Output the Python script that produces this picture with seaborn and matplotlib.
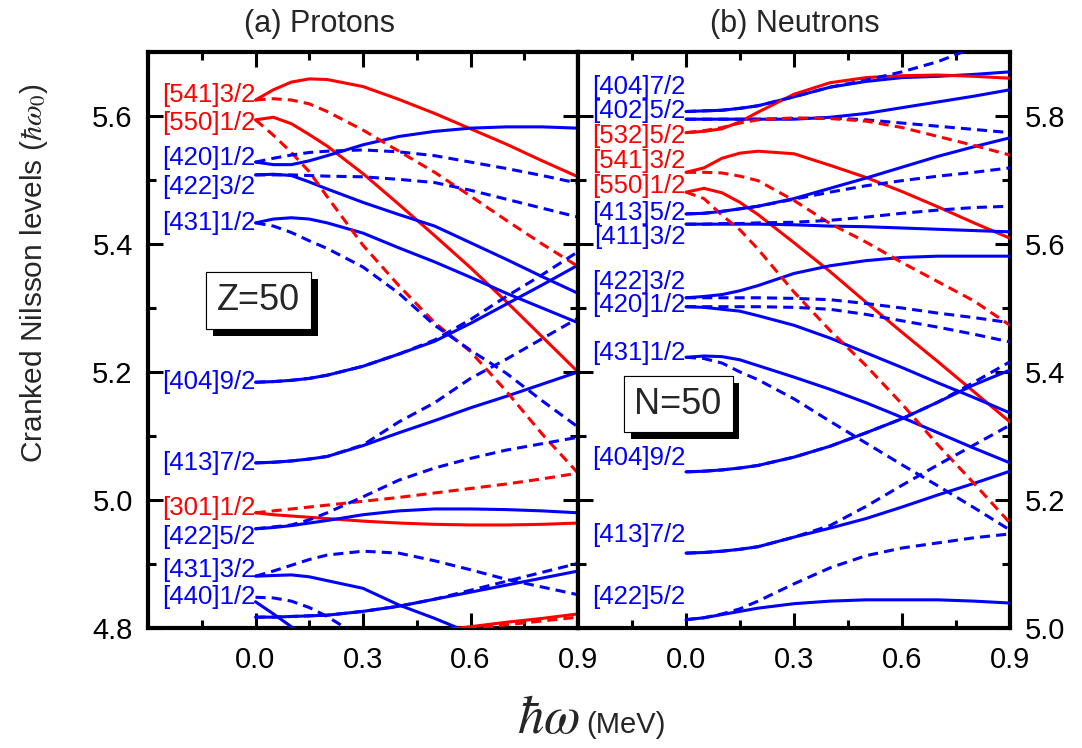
import numpy as np
import pandas as pd
import matplotlib
matplotlib.use("Agg")
import matplotlib.pyplot as plt
import matplotlib.patheffects as pe
from matplotlib.ticker import FixedLocator, MultipleLocator
import seaborn as sns

sns.set_theme(style="ticks")
plt.rcParams["font.family"] = ["Liberation Sans", "DejaVu Sans"]
plt.rcParams["mathtext.fontset"] = "stix"

nan = np.nan
# rotational frequency grid (MeV)
W = [0.0, 0.05, 0.1, 0.15, 0.2, 0.3, 0.4, 0.5, 0.6, 0.7, 0.8, 0.9]

# ---------------- (a) Protons ----------------
P541_S = [5.625, 5.641, 5.653, 5.658, 5.657, 5.646, 5.626, 5.604, 5.580, 5.556, 5.530, 5.505]
P541_D = [5.625, 5.627, 5.625, 5.619, 5.607, 5.578, 5.545, 5.512, 5.475, 5.437, 5.400, 5.365]
P550_S = [5.594, 5.598, 5.588, 5.571, 5.553, 5.510, 5.462, 5.413, 5.363, 5.310, 5.255, 5.200]
P550_D = [5.594, 5.570, 5.543, 5.513, 5.474, 5.398, 5.335, 5.277, 5.232, 5.170, 5.103, 5.042]
P420_S = [5.528, 5.524, 5.524, 5.530, 5.538, 5.555, 5.568, 5.576, 5.581, 5.583, 5.583, 5.581]
P420_D = [5.528, 5.534, 5.539, 5.543, 5.545, 5.547, 5.544, 5.538, 5.528, 5.518, 5.507, 5.495]
P422A_S = [5.508, 5.509, 5.507, 5.497, 5.486, 5.465, 5.446, 5.428, 5.402, 5.376, 5.349, 5.323]
P422A_D = [5.508, 5.508, 5.508, 5.507, 5.506, 5.505, 5.501, 5.496, 5.484, 5.470, 5.456, 5.442]
P431A_S = [5.433, 5.439, 5.441, 5.439, 5.433, 5.417, 5.394, 5.372, 5.348, 5.323, 5.300, 5.277]
P431A_D = [5.433, 5.428, 5.418, 5.405, 5.393, 5.364, 5.323, 5.273, 5.234, 5.198, 5.155, 5.114]
P404_S = [5.184, 5.185, 5.187, 5.190, 5.195, 5.209, 5.228, 5.248, 5.276, 5.306, 5.336, 5.367]
P404_D = [5.184, 5.185, 5.187, 5.190, 5.195, 5.209, 5.228, 5.250, 5.282, 5.318, 5.352, 5.388]
P413_S = [5.058, 5.059, 5.061, 5.064, 5.068, 5.085, 5.105, 5.124, 5.144, 5.162, 5.181, 5.200]
P413_D = [5.058, 5.059, 5.061, 5.064, 5.068, 5.086, 5.122, 5.152, 5.190, 5.220, 5.252, 5.284]
P301_S = [4.980, 4.977, 4.975, 4.973, 4.971, 4.967, 4.964, 4.962, 4.961, 4.961, 4.962, 4.964]
P301_D = [4.980, 4.983, 4.986, 4.989, 4.992, 4.998, 5.004, 5.011, 5.018, 5.025, 5.033, 5.042]
P422B_S = [4.955, 4.957, 4.960, 4.964, 4.968, 4.977, 4.983, 4.986, 4.986, 4.985, 4.983, 4.980]
P422B_D = [4.955, 4.958, 4.961, 4.969, 4.980, 5.005, 5.031, 5.050, 5.065, 5.078, 5.088, 5.098]
P431B_S = [4.881, 4.882, 4.883, 4.880, 4.874, 4.862, 4.836, 4.815, 4.792, nan, nan, nan]
P431B_D = [4.881, 4.889, 4.898, 4.907, 4.914, 4.920, 4.917, 4.905, 4.891, 4.876, 4.864, 4.852]
P440_S = [4.841, 4.822, 4.802, 4.780, nan, nan, nan, nan, nan, nan, nan, nan]
P440_D = [4.848, 4.847, 4.842, 4.832, 4.818, 4.783, nan, nan, nan, nan, nan, nan]
PLOW_S = [4.817, 4.817, 4.818, 4.819, 4.820, 4.826, 4.834, 4.845, 4.856, 4.867, 4.878, 4.889]
PLOW_D = [4.817, 4.817, 4.818, 4.819, 4.820, 4.826, 4.834, 4.845, 4.859, 4.873, 4.887, 4.901]
PRED_S = [nan, nan, nan, nan, nan, nan, nan, 4.795, 4.802, 4.809, 4.815, 4.822]
PRED_D = [nan, nan, nan, nan, nan, nan, nan, 4.792, 4.799, 4.805, 4.811, 4.817]

P_LABELS = ["[541]3/2", "[550]1/2", "[420]1/2", "[422]3/2", "[431]1/2", "[404]9/2",
            "[413]7/2", "[301]1/2", "[422]5/2", "[431]3/2", "[440]1/2"]
P_LABEL_E = [5.633, 5.589, 5.534, 5.489, 5.433, 5.184, 5.058, 4.988, 4.942, 4.891, 4.848]
P_LABEL_PARITY = ["-", "-", "+", "+", "+", "+", "+", "-", "+", "+", "+"]

# ---------------- (b) Neutrons ----------------
N404A_S = [5.807, 5.808, 5.809, 5.812, 5.816, 5.830, 5.845, 5.854, 5.860, 5.862, 5.865, 5.869]
N404A_D = [5.807, 5.808, 5.809, 5.812, 5.816, 5.830, 5.845, 5.856, 5.869, 5.885, 5.907, 5.925]
N402_S = [5.795, 5.795, 5.795, 5.795, 5.795, 5.795, 5.798, 5.804, 5.813, 5.822, 5.831, 5.841]
N402_D = [5.795, 5.795, 5.795, 5.795, 5.795, 5.796, 5.797, 5.794, 5.789, 5.784, 5.779, 5.774]
N532_S = [5.774, 5.776, 5.780, 5.791, 5.806, 5.834, 5.852, 5.860, 5.863, 5.864, 5.862, 5.859]
N532_D = [5.774, 5.777, 5.782, 5.789, 5.794, 5.797, 5.796, 5.792, 5.782, 5.768, 5.754, 5.739]
N541_S = [5.712, 5.719, 5.734, 5.742, 5.745, 5.741, 5.723, 5.704, 5.682, 5.658, 5.633, 5.609]
N541_D = [5.712, 5.712, 5.711, 5.706, 5.699, 5.668, 5.632, 5.603, 5.571, 5.541, 5.511, 5.473]
N550_S = [5.681, 5.687, 5.680, 5.665, 5.646, 5.602, 5.557, 5.509, 5.462, 5.416, 5.369, 5.322]
N550_D = [5.681, 5.671, 5.645, 5.622, 5.592, 5.525, 5.465, 5.410, 5.350, 5.286, 5.226, 5.164]
N413A_S = [5.647, 5.648, 5.651, 5.655, 5.659, 5.671, 5.687, 5.703, 5.720, 5.737, 5.752, 5.766]
N413A_D = [5.647, 5.648, 5.651, 5.655, 5.659, 5.670, 5.681, 5.691, 5.699, 5.706, 5.712, 5.719]
N411_S = [5.631, 5.631, 5.631, 5.631, 5.631, 5.630, 5.628, 5.627, 5.625, 5.623, 5.621, 5.619]
N411_D = [5.631, 5.631, 5.632, 5.632, 5.633, 5.634, 5.637, 5.642, 5.648, 5.653, 5.657, 5.659]
N422A_S = [5.516, 5.518, 5.521, 5.527, 5.535, 5.554, 5.566, 5.574, 5.579, 5.581, 5.581, 5.581]
N422A_D = [5.516, 5.516, 5.516, 5.516, 5.516, 5.515, 5.513, 5.507, 5.500, 5.492, 5.485, 5.477]
N420_S = [5.502, 5.501, 5.498, 5.495, 5.488, 5.473, 5.453, 5.430, 5.407, 5.383, 5.360, 5.336]
N420_D = [5.502, 5.502, 5.502, 5.502, 5.502, 5.501, 5.498, 5.490, 5.480, 5.470, 5.459, 5.447]
N431_S = [5.423, 5.425, 5.424, 5.419, 5.410, 5.392, 5.373, 5.352, 5.329, 5.305, 5.281, 5.258]
N431_D = [5.423, 5.421, 5.414, 5.400, 5.388, 5.358, 5.323, 5.289, 5.255, 5.222, 5.188, 5.153]
N404B_S = [5.244, 5.245, 5.247, 5.250, 5.254, 5.267, 5.284, 5.305, 5.327, 5.353, 5.380, 5.403]
N404B_D = [5.244, 5.245, 5.247, 5.250, 5.254, 5.267, 5.284, 5.305, 5.327, 5.353, 5.384, 5.416]
N413B_S = [5.117, 5.118, 5.120, 5.123, 5.127, 5.142, 5.156, 5.171, 5.189, 5.208, 5.226, 5.245]
N413B_D = [5.117, 5.118, 5.120, 5.123, 5.127, 5.142, 5.160, 5.190, 5.223, 5.255, 5.286, 5.317]
N422B_S = [5.013, 5.016, 5.021, 5.026, 5.031, 5.038, 5.042, 5.044, 5.044, 5.044, 5.042, 5.039]
N422B_D = [5.013, 5.016, 5.022, 5.030, 5.042, 5.069, 5.094, 5.113, 5.125, 5.133, 5.141, 5.147]

N_LABELS = ["[404]7/2", "[402]5/2", "[532]5/2", "[541]3/2", "[550]1/2", "[413]5/2", "[411]3/2",
            "[422]3/2", "[420]1/2", "[431]1/2", "[404]9/2", "[413]7/2", "[422]5/2"]
N_LABEL_E = [5.846, 5.808, 5.768, 5.729, 5.690, 5.648, 5.611, 5.541, 5.505, 5.429, 5.265, 5.145, 5.049]
N_LABEL_PARITY = ["+", "+", "-", "-", "-", "+", "+", "+", "+", "+", "+", "+", "+"]

X_TICKS = [-0.3, 0.0, 0.3, 0.6, 0.9]
X_TICKLABELS = ["", "0.0", "0.3", "0.6", "0.9"]

# ---------------- styling ----------------
RED, BLUE = "#ff0000", "#0000ff"
PARITY_COLOR = {"-": RED, "+": BLUE}
LW = 2.2
DASH = (0, (3.3, 2.0))

P_CURVES = [
    (P541_S, P541_D, "-"), (P550_S, P550_D, "-"), (P420_S, P420_D, "+"),
    (P422A_S, P422A_D, "+"), (P431A_S, P431A_D, "+"), (P404_S, P404_D, "+"),
    (P413_S, P413_D, "+"), (P301_S, P301_D, "-"), (P422B_S, P422B_D, "+"),
    (P431B_S, P431B_D, "+"), (P440_S, P440_D, "+"), (PLOW_S, PLOW_D, "+"),
    (PRED_S, PRED_D, "-"),
]
N_CURVES = [
    (N404A_S, N404A_D, "+"), (N402_S, N402_D, "+"), (N532_S, N532_D, "-"),
    (N541_S, N541_D, "-"), (N550_S, N550_D, "-"), (N413A_S, N413A_D, "+"),
    (N411_S, N411_D, "+"), (N422A_S, N422A_D, "+"), (N420_S, N420_D, "+"),
    (N431_S, N431_D, "+"), (N404B_S, N404B_D, "+"), (N413B_S, N413B_D, "+"),
    (N422B_S, N422B_D, "+"),
]

fig = plt.figure(figsize=(10.82, 7.48), dpi=100)
axL = fig.add_axes([148 / 1082, 1 - 628 / 748, 430 / 1082, 576 / 748])
axR = fig.add_axes([578 / 1082, 1 - 628 / 748, 432 / 1082, 576 / 748])


def draw(ax, curves):
    for s, d, par in curves:
        col = PARITY_COLOR[par]
        df = pd.DataFrame({"w": W, "s": s, "d": d})
        ds = df.dropna(subset=["s"])
        sns.lineplot(data=ds, x="w", y="s", ax=ax, color=col, linewidth=LW,
                     estimator=None, sort=False, zorder=3)
    for s, d, par in curves:
        col = PARITY_COLOR[par]
        df = pd.DataFrame({"w": W, "s": s, "d": d})
        dd = df.dropna(subset=["d"])
        sns.lineplot(data=dd, x="w", y="d", ax=ax, color=col, linewidth=LW,
                     linestyle=DASH, estimator=None, sort=False, zorder=4)


draw(axL, P_CURVES)
draw(axR, N_CURVES)

for ax, labels, es, pars in [(axL, P_LABELS, P_LABEL_E, P_LABEL_PARITY),
                             (axR, N_LABELS, N_LABEL_E, N_LABEL_PARITY)]:
    for lab, e, par in zip(labels, es, pars):
        ax.text(-0.001, e, lab, color=PARITY_COLOR[par], fontsize=18.5,
                ha="right", va="center", zorder=5)

axL.set_ylim(4.8, 5.7)
axR.set_ylim(5.0, 5.9)
for ax in (axL, axR):
    ax.set_xlim(-0.3, 0.9)
    ax.set_xlabel("")
    ax.set_ylabel("")
    ax.xaxis.set_major_locator(FixedLocator(X_TICKS))
    ax.set_xticklabels(X_TICKLABELS)
    ax.xaxis.set_minor_locator(FixedLocator([-0.15, 0.15, 0.45, 0.75]))
    ax.yaxis.set_major_locator(MultipleLocator(0.2))
    ax.yaxis.set_minor_locator(MultipleLocator(0.1))
    ax.tick_params(axis="both", which="both", direction="in", top=True, bottom=True,
                   left=True, right=True, width=2.2, colors="black")
    ax.tick_params(axis="both", which="major", length=11, labelsize=21)
    ax.tick_params(axis="both", which="minor", length=6)
    ax.tick_params(axis="x", which="major", pad=13)
    for sp in ax.spines.values():
        sp.set_linewidth(3.0)
        sp.set_color("black")
        sp.set_visible(True)

axL.tick_params(axis="y", which="major", pad=11, labelleft=True, labelright=False)
axR.tick_params(axis="y", which="major", pad=11, labelleft=False, labelright=True)

# boxed nucleus labels with drop shadow
for ax, txt, x, y in [(axL, "Z=50", 0.008, 5.312), (axR, "N=50", -0.022, 5.35)]:
    t = ax.text(x, y, txt, fontsize=26, ha="center", va="center", zorder=6,
                bbox=dict(boxstyle="square,pad=0.3", fc="white", ec="black", lw=0.8))
    t.get_bbox_patch().set_path_effects([
        pe.withSimplePatchShadow(offset=(5, -5), shadow_rgbFace="black", alpha=1.0),
        pe.Normal()])

fig.text(319 / 1082, 1 - 24 / 748, "(a) Protons", fontsize=22, ha="center", va="center")
fig.text(795 / 1082, 1 - 24 / 748, "(b) Neutrons", fontsize=22, ha="center", va="center")
fig.text(34 / 1082, 1 - 273 / 748, r"Cranked Nilsson levels ($\hbar\omega_0$)",
         fontsize=21.5, rotation=90, ha="center", va="center")
fig.text(580 / 1082, 1 - 733 / 748, r"$\hbar\omega$", fontsize=38, ha="right", va="baseline")
fig.text(586 / 1082, 1 - 733 / 748, "(MeV)", fontsize=21, ha="left", va="baseline")

fig.savefig("out.png", dpi=100)
